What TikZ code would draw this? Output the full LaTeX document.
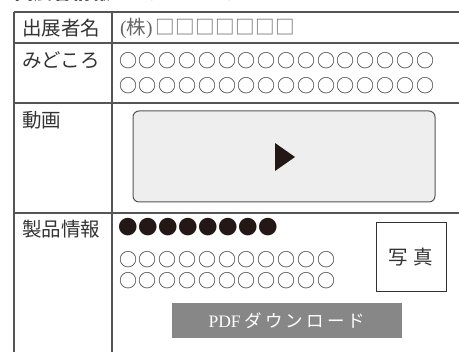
\documentclass[tikz,border=0pt]{standalone}
\usepackage{fontspec}
\setmainfont{Noto Sans CJK JP}
\newfontfamily\latinfont{Liberation Serif}
\newfontfamily\widejp[LetterSpace=18]{Noto Sans CJK JP}
\newfontfamily\markjp[LetterSpace=10]{Noto Sans CJK JP}
\newfontfamily\dotjp[LetterSpace=2.5]{Noto Sans CJK JP}
\definecolor{rulegray}{HTML}{555555}
\definecolor{inkdark}{HTML}{333333}
\definecolor{boxgray}{HTML}{666666}
\definecolor{panelgray}{HTML}{EEEEEE}
\definecolor{buttongray}{HTML}{878787}
\definecolor{playblack}{HTML}{231815}
\begin{document}
\begin{tikzpicture}[x=1pt,y=-1pt,
    tablerule/.style={rulegray,line width=1.3pt},
    celltext/.style={anchor=west,inner sep=0pt,text=inkdark,font=\fontsize{19.5}{22}\selectfont},
    filler/.style={anchor=west,inner sep=0pt,text=inkdark,font=\markjp\fontsize{18}{20}\selectfont}]
  \useasboundingbox (0,0) rectangle (459,352);
  \clip (0,0) rectangle (459,352);
  % title, cut off at the top edge
  \node[anchor=base west,inner sep=0pt,text=inkdark,font=\fontsize{19.3}{22}\selectfont\bfseries] (title) at (14,0) {出展者情報ページイメージ};
  % table rules
  \draw[tablerule] (14,12) -- (459,12);
  \draw[tablerule] (14,43) -- (459,43);
  \draw[tablerule] (14,103) -- (459,103);
  \draw[tablerule] (14,213) -- (459,213);
  \draw[tablerule] (14,12) -- (14,352);
  \draw[tablerule] (112,12) -- (112,352);
  % row labels
  \node[celltext] (name) at (22,28) {出展者名};
  \node[celltext] (points) at (22,60.5) {みどころ};
  \node[celltext] (movie) at (22,120) {動画};
  \node[celltext] (product) at (22,229.5) {製品情報};
  % exhibitor name
  \node[celltext,text=boxgray] (company) at (120,28) {{\latinfont(}株{\latinfont)}\hspace{3pt}{\dotjp\fontsize{19.5}{22}\selectfont □□□□□□□}};
  % highlights
  \node[filler] (pointsA) at (119,61) {○○○○○○○○○○○○○○○○};
  \node[filler] (pointsB) at (119,85.5) {○○○○○○○○○○○○○○○○};
  % movie panel
  \node[draw=rulegray,line width=1pt,fill=panelgray,rounded corners=6pt,
        minimum width=302pt,minimum height=91pt,inner sep=0pt] (video) at (284,156.5) {};
  \fill[playblack] (275,143) -- (295,157) -- (275,171) -- cycle;
  % product information
  \node[filler,text=playblack,font=\dotjp\fontsize{19.5}{22}\selectfont] (headline) at (118,227.5) {●●●●●●●●};
  \node[filler] (detailA) at (119,259.5) {○○○○○○○○○○○};
  \node[filler] (detailB) at (119,280.5) {○○○○○○○○○○○};
  \node[draw=inkdark,line width=1pt,minimum width=70pt,minimum height=69pt,inner sep=0pt,
        text=inkdark,font=\fontsize{19.5}{22}\selectfont] (photo) at (411,257.5) {写\hspace{6pt}真};
  \node[fill=buttongray,minimum width=230pt,minimum height=35pt,inner sep=0pt,
        text=white,font=\fontsize{17.5}{20}\selectfont] (pdf) at (287,320.5)
        {{\latinfont PDF}\hspace{4pt}{\widejp ダウンロード}};
\end{tikzpicture}
\end{document}
